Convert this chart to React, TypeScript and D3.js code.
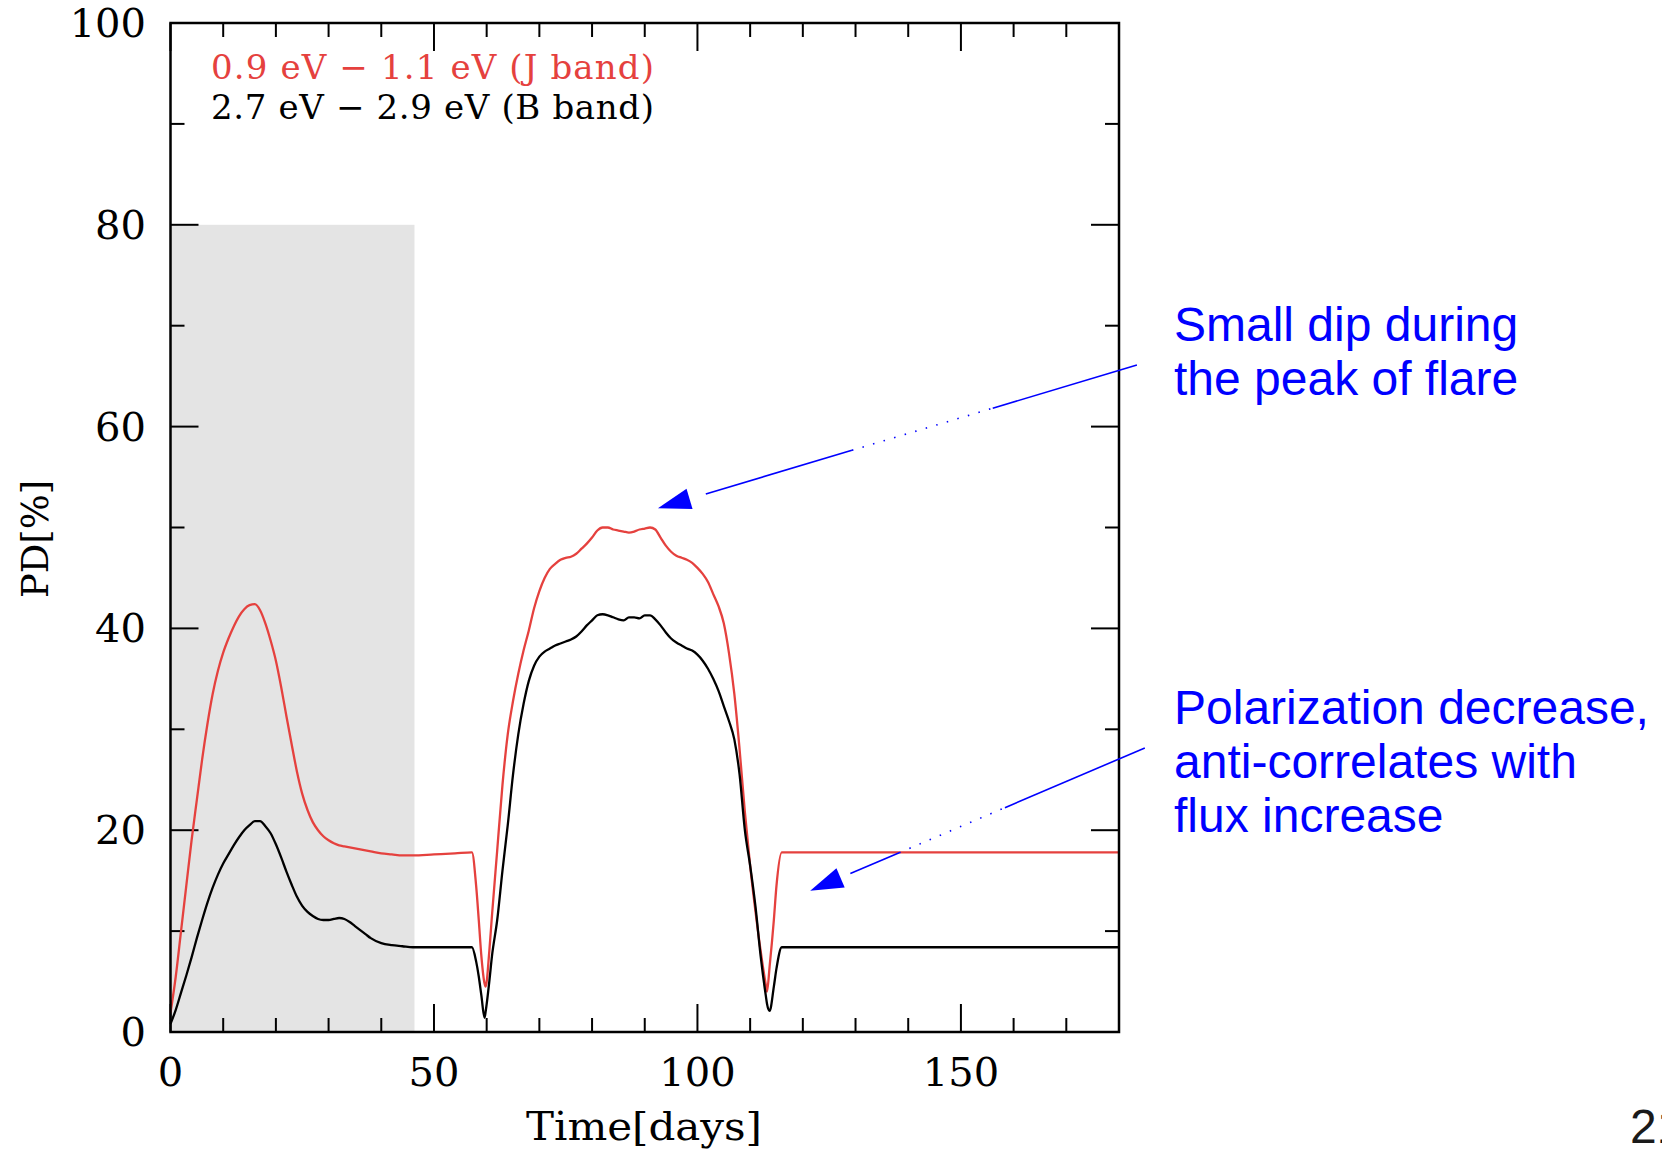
import React from "react";
import * as d3 from "d3";

const WIDTH = 1662;
const HEIGHT = 1151;
const PLOT = { left: 170.5, right: 1119, top: 23, bottom: 1032 };

const RED = "#e5413e";
const BLUE = "#0000ff";
const SERIF = "'DejaVu Serif', 'Liberation Serif', serif";
const SANS = "'Liberation Sans', Arial, sans-serif";

// time grid (days), shared by both bands
const days = [
  0, 1, 2, 3, 4, 5, 6, 7, 8, 9,
  10, 11, 12, 13, 14, 15, 16, 17, 18, 19,
  20, 21, 22, 23, 24, 25, 26, 27, 28, 29,
  30, 31, 32, 33, 34, 35, 36, 37, 38,
  40, 42, 44, 46, 50, 54, 57.2,
  58, 58.5, 59, 59.6, 59.8, 60.5, 61,
  62, 63, 64, 65, 66, 67, 68, 69, 70, 71,
  72, 73, 74, 75, 76, 77, 78, 79, 80, 81,
  82, 83, 84, 85, 86, 87, 88, 89, 90, 91,
  92, 93, 94, 95, 96, 97, 98, 99, 100, 101,
  102, 103, 104, 105, 106, 107, 108, 109, 110, 111,
  112, 113,
  113.2, 113.7, 114.5, 115, 116, 120, 140, 160, 180,
];

// 0.9 - 1.1 eV (J band), PD in %
const jBand = [
  1.9, 5.5, 10.0, 14.5, 19.0, 23.0, 27.0, 30.5, 33.5, 35.8,
  37.6, 39.0, 40.2, 41.2, 41.9, 42.3, 42.4, 41.8, 40.5, 38.8,
  36.8, 34.2, 31.3, 28.5, 25.8, 23.6, 22.0, 20.8, 20.0, 19.4,
  19.0, 18.7, 18.5, 18.4, 18.3, 18.2, 18.1, 18.0, 17.9,
  17.7, 17.6, 17.5, 17.5, 17.6, 17.7, 17.8,
  14.5, 11.1, 7.5, 4.8, 4.5, 8.0, 11.5,
  18.0, 24.5, 29.5, 32.8, 35.5, 37.8, 39.8, 42.0, 43.7, 45.0,
  45.9, 46.4, 46.8, 47.0, 47.1, 47.4, 47.9, 48.4, 49.0, 49.7,
  50.0, 50.0, 49.8, 49.7, 49.6, 49.5, 49.6, 49.8, 49.9, 50.0,
  49.8, 49.0, 48.2, 47.6, 47.2, 47.0, 46.8, 46.5, 46.0, 45.4,
  44.6, 43.4, 42.2, 40.5, 37.5, 33.5, 28.0, 21.8, 16.5, 12.0,
  8.0, 4.6,
  4.0, 6.5, 11.1, 14.5, 17.8, 17.8, 17.8, 17.8, 17.8,
];

// 2.7 - 2.9 eV (B band), PD in %
const bBand = [
  0.8, 2.2, 3.9, 5.6, 7.4, 9.3, 11.1, 12.8, 14.3, 15.6,
  16.7, 17.6, 18.5, 19.3, 20.0, 20.5, 20.9, 20.9, 20.4, 19.7,
  18.6, 17.3, 15.9, 14.6, 13.4, 12.5, 11.9, 11.5, 11.2, 11.1,
  11.1, 11.2, 11.3, 11.2, 10.9, 10.5, 10.1, 9.7, 9.3,
  8.8, 8.6, 8.5, 8.4, 8.4, 8.4, 8.4,
  7.0, 5.5, 3.6, 1.4, 2.0, 5.0, 7.5,
  11.1, 16.0, 20.5, 25.5, 29.5, 32.5, 34.8, 36.3, 37.2, 37.7,
  38.0, 38.3, 38.5, 38.7, 38.9, 39.2, 39.7, 40.3, 40.8, 41.3,
  41.4, 41.3, 41.1, 40.9, 40.8, 41.1, 41.1, 41.0, 41.3, 41.3,
  40.9, 40.3, 39.6, 39.0, 38.6, 38.3, 38.0, 37.8, 37.4, 36.8,
  36.0, 35.0, 33.8, 32.3, 30.8, 29.0, 25.5, 20.0, 16.5, 12.5,
  7.5, 3.5,
  2.8, 2.1, 4.5, 6.3, 8.4, 8.4, 8.4, 8.4, 8.4,
];

const xTickLabels = [0, 50, 100, 150];
const yTickLabels = [0, 20, 40, 60, 80, 100];
const legendLabels = ["0.9 eV \u2212 1.1 eV (J band)", "2.7 eV \u2212 2.9 eV (B band)"];
const shadedDays = [0, 46.3];
const shadedTop = 80;

const notePeak = ["Small dip during", "the peak of flare"];
const noteDecrease = ["Polarization decrease,", "anti-correlates with", "flux increase"];

// arrows in data units: tip, tail, and where the thin line goes dotted
const arrows = [
  { tip: [92.5, 51.9], tail: [183.4, 66.1], start: 0.1, dotA: 0.405, dotB: 0.699 },
  { tip: [121.4, 14.0], tail: [184.9, 28.15], start: 0.12, dotA: 0.266, dotB: 0.582 },
];

export default function App() {
  const x = d3.scaleLinear().domain([0, 180]).range([PLOT.left, PLOT.right]);
  const y = d3.scaleLinear().domain([0, 100]).range([PLOT.bottom, PLOT.top]);

  const line = d3
    .line<number>()
    .x((_, i) => x(days[i]))
    .y((d) => y(d))
    .curve(d3.curveMonotoneX);

  const xTicks = x.ticks(18);
  const yTicks = y.ticks(10);

  const arrowShapes = arrows.map((a, i) => {
    const [tx, ty] = [x(a.tip[0]), y(a.tip[1])];
    const [ex, ey] = [x(a.tail[0]), y(a.tail[1])];
    const dx = ex - tx;
    const dy = ey - ty;
    const len = Math.hypot(dx, dy);
    const ux = dx / len;
    const uy = dy / len;
    const headLen = 33;
    const headW = 10.5;
    const bx = tx + ux * headLen;
    const by = ty + uy * headLen;
    const head = [
      [tx, ty],
      [bx - uy * headW, by + ux * headW],
      [bx + uy * headW, by - ux * headW],
    ]
      .map((p) => p.join(","))
      .join(" ");
    const at = (t: number) => [tx + dx * t, ty + dy * t];
    const seg = (t0: number, t1: number, dash?: string, key?: string) => {
      const [x1, y1] = at(t0);
      const [x2, y2] = at(t1);
      return (
        <line
          key={key}
          x1={x1}
          y1={y1}
          x2={x2}
          y2={y2}
          stroke={BLUE}
          strokeWidth={1.6}
          strokeDasharray={dash}
        />
      );
    };
    return (
      <g key={i}>
        <polygon points={head} fill={BLUE} />
        {seg(a.start, a.dotA, undefined, "a")}
        {seg(a.dotA, a.dotB, "1.5 9.5", "b")}
        {seg(a.dotB, 1, undefined, "c")}
      </g>
    );
  });

  return (
    <svg
      width={WIDTH}
      height={HEIGHT}
      style={{ position: "absolute", left: 0, top: 0, background: "#fff" }}
    >
      <rect
        x={x(shadedDays[0])}
        y={y(shadedTop)}
        width={x(shadedDays[1]) - x(shadedDays[0])}
        height={y(0) - y(shadedTop)}
        fill="#e4e4e4"
      />

      {/* ticks on all four sides */}
      <g stroke="#000" strokeWidth={2}>
        {xTicks.map((v) => {
          const L = v % 50 === 0 ? 28 : 14;
          return (
            <g key={"x" + v}>
              <line x1={x(v)} x2={x(v)} y1={PLOT.bottom} y2={PLOT.bottom - L} />
              <line x1={x(v)} x2={x(v)} y1={PLOT.top} y2={PLOT.top + L} />
            </g>
          );
        })}
        {yTicks.map((v) => {
          const L = v % 20 === 0 ? 28 : 14;
          return (
            <g key={"y" + v}>
              <line x1={PLOT.left} x2={PLOT.left + L} y1={y(v)} y2={y(v)} />
              <line x1={PLOT.right} x2={PLOT.right - L} y1={y(v)} y2={y(v)} />
            </g>
          );
        })}
      </g>

      <path d={line(jBand) ?? ""} fill="none" stroke={RED} strokeWidth={2.3} strokeLinejoin="round" />
      <path d={line(bBand) ?? ""} fill="none" stroke="#000" strokeWidth={2.3} strokeLinejoin="round" />

      <rect
        x={PLOT.left}
        y={PLOT.top}
        width={PLOT.right - PLOT.left}
        height={PLOT.bottom - PLOT.top}
        fill="none"
        stroke="#000"
        strokeWidth={2.5}
      />

      <g fontFamily={SERIF} fontSize={40} fill="#000">
        {yTickLabels.map((v) => (
          <text key={v} x={146} y={y(v) + 14} textAnchor="end">
            {v}
          </text>
        ))}
        {xTickLabels.map((v) => (
          <text key={v} x={x(v)} y={1086} textAnchor="middle">
            {v}
          </text>
        ))}
      </g>

      <text
        x={644}
        y={1140}
        textAnchor="middle"
        fontFamily={SERIF}
        fontSize={40}
        textLength={236}
        lengthAdjust="spacingAndGlyphs"
      >
        Time[days]
      </text>
      <text
        transform="translate(48, 539) rotate(-90)"
        textAnchor="middle"
        fontFamily={SERIF}
        fontSize={38}
        textLength={118}
        lengthAdjust="spacingAndGlyphs"
      >
        PD[%]
      </text>

      <g fontFamily={SERIF} fontSize={34}>
        {legendLabels.map((t, i) => (
          <text
            key={t}
            x={211}
            y={79 + i * 40}
            fill={i === 0 ? RED : "#000"}
            textLength={443}
            lengthAdjust="spacing"
          >
            {t}
          </text>
        ))}
      </g>

      <g fontFamily={SANS} fontSize={48} fill={BLUE}>
        {notePeak.map((t, i) => (
          <text key={t} x={1174} y={341 + i * 54}>
            {t}
          </text>
        ))}
        {noteDecrease.map((t, i) => (
          <text key={t} x={1174} y={724 + i * 54}>
            {t}
          </text>
        ))}
      </g>

      {arrowShapes}

      <text x={1630} y={1143} fontFamily={SANS} fontSize={48} fill="#1a1a1a">
        21
      </text>
    </svg>
  );
}
